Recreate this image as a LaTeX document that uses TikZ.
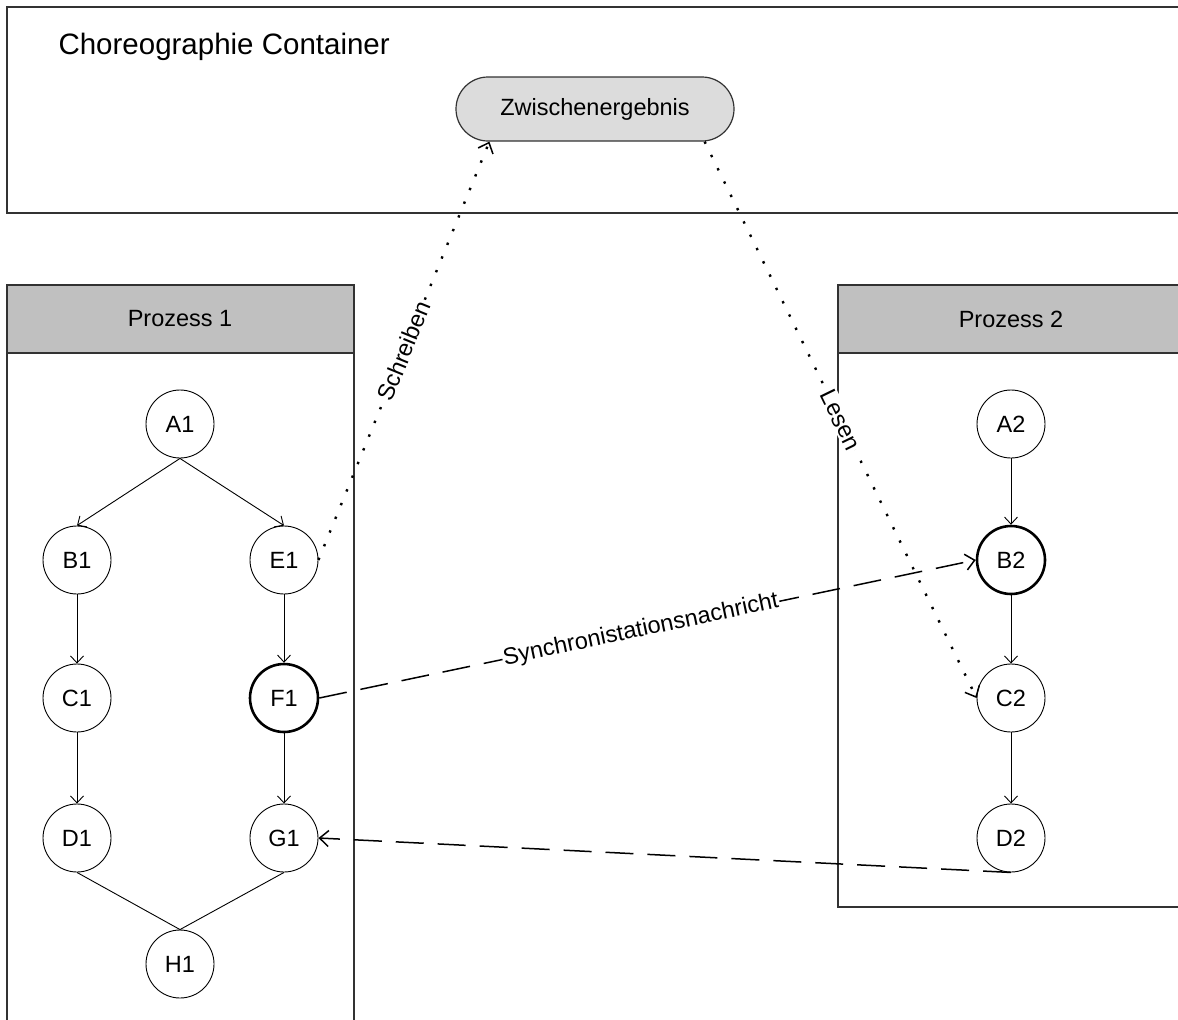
\documentclass[tikz,border=0pt]{standalone}
\usepackage{fontspec}
\setmainfont{Liberation Sans}
\usetikzlibrary{arrows.meta,positioning}

\definecolor{headgray}{RGB}{192,192,192}
\definecolor{datagray}{RGB}{220,220,220}
\definecolor{frameline}{RGB}{50,50,50}

\begin{document}
\begin{tikzpicture}[x=1pt,y=-1pt,
  txt/.style={font=\fontsize{23.5}{28}\selectfont},
  proc/.style={circle,draw,minimum size=68pt,inner sep=0pt,line width=0.9pt,txt},
  procbold/.style={proc,line width=2.6pt},
  flow/.style={line width=0.9pt,-{Straight Barb[length=7pt,width=13pt,line width=0.9pt]}},
  plain/.style={line width=0.9pt},
  frame/.style={draw=frameline,line width=1.4pt},
  dotline/.style={line width=2.4pt,dash pattern=on 2.4pt off 12.4pt,
    -{Straight Barb[length=9pt,width=16pt,line width=1.5pt]}},
  dashline/.style={line width=1.5pt,dash pattern=on 28pt off 14pt,
    -{Straight Barb[length=9pt,width=16pt,line width=1.5pt]}},
  lbl/.style={fill=white,inner sep=1.5pt,sloped,txt}
]
\useasboundingbox (0,0) rectangle (1178,1020);

% choreography container
\draw[frame] (1190,7) -- (7,7) -- (7,213) -- (1190,213);
\node[anchor=base west,font=\fontsize{29.5}{34}\selectfont] (ctitle) at (55,54) {Choreographie Container};
\node[draw=frameline,line width=1.2pt,fill=datagray,rounded corners=32pt,
  minimum width=278pt,minimum height=64pt,txt] (Z) at (595,109) {Zwischenergebnis};

% pool of process 1
\filldraw[frame,fill=headgray] (7,285) rectangle (354,353);
\draw[frame] (7,353) -- (7,1030);
\draw[frame] (354,353) -- (354,1030);
\node[txt] (p1) at (180,319) {Prozess 1};

% pool of process 2
\filldraw[frame,fill=headgray] (1190,285) -- (838,285) -- (838,353) -- (1190,353);
\draw[frame] (838,353) -- (838,907) -- (1190,907);
\node[txt] (p2) at (1011,319) {Prozess 2};

% activities of process 1
\node[proc] (A1) at (180,424) {A1};
\node[proc] (B1) at (77,560) {B1};
\node[proc] (E1) at (284,560) {E1};
\node[proc] (C1) at (77,698) {C1};
\node[procbold] (F1) at (284,698) {F1};
\node[proc] (D1) at (77,838) {D1};
\node[proc] (G1) at (284,838) {G1};
\node[proc] (H1) at (180,964) {H1};

% activities of process 2
\node[proc] (A2) at (1011,424) {A2};
\node[procbold] (B2) at (1011,560) {B2};
\node[proc] (C2) at (1011,698) {C2};
\node[proc] (D2) at (1011,838) {D2};

% control flow
\draw[flow] (A1.south) -- (B1.north);
\draw[flow] (A1.south) -- (E1.north);
\draw[flow] (B1) -- (C1);
\draw[flow] (E1) -- (F1);
\draw[flow] (C1) -- (D1);
\draw[flow] (F1) -- (G1);
\draw[plain] (D1.south) -- (H1.north);
\draw[plain] (G1.south) -- (H1.north);
\draw[flow] (A2) -- (B2);
\draw[flow] (B2) -- (C2);
\draw[flow] (C2) -- (D2);

% data access via the container
\draw[dotline] (E1.east) -- node[lbl,pos=0.5] {Schreiben} ([xshift=34pt]Z.south west);
\draw[dotline] ([xshift=-30pt]Z.south east) -- node[lbl,pos=0.5] {Lesen} (C2.west);

% messages between the processes
\draw[dashline] (F1.east) -- node[lbl,pos=0.49,inner sep=1pt] {Synchronistationsnachricht} (B2.west);
\draw[dashline] (D2.south) -- (G1.east);
\end{tikzpicture}
\end{document}
